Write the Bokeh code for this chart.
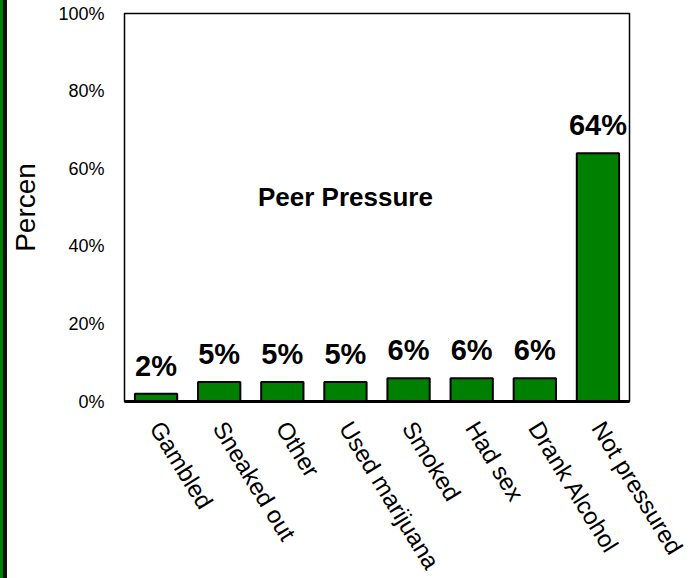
from bokeh.plotting import figure
from bokeh.layouts import row
from bokeh.models import (ColumnDataSource, FixedTicker, PrintfTickFormatter,
                          Label, Range1d, Div)
from bokeh.embed import file_html
from bokeh.resources import INLINE
from bokeh.core.properties import value

categories = ["Gambled", "Sneaked out", "Other", "Used marijuana",
              "Smoked", "Had sex", "Drank Alcohol", "Not pressured"]
percents = [2, 5, 5, 5, 6, 6, 6, 64]
y_ticks = [0, 20, 40, 60, 80, 100]
chart_title = "Peer Pressure"
y_label = "Percen"

FONT = "Liberation Sans"
STRIPE = 7

idx = list(range(len(categories)))
src = ColumnDataSource(dict(
    x=idx,
    top=percents,
    lab=[f"{v}%" for v in percents],
))

p = figure(output_backend="svg", toolbar_location=None,
           frame_width=505, frame_height=388,
           min_border_left=122 - STRIPE, min_border_right=67,
           min_border_top=13, min_border_bottom=177,
           x_range=Range1d(-0.5, len(categories) - 0.5),
           y_range=Range1d(0, 100), margin=(0, 0, 0, 0))

p.vbar(x="x", top="top", width=0.67, source=src,
       fill_color="#008000", line_color="#000000", line_width=2)

p.text(x="x", y="top", text="lab", source=src,
       text_align="center", text_baseline="alphabetic", y_offset=-28,
       text_font=value(FONT), text_font_style="bold",
       text_font_size="29px", text_color="#000000")

p.add_layout(Label(x=3.0, y=52.6, text=chart_title,
                   text_align="center", text_baseline="middle",
                   text_font=FONT, text_font_style="bold",
                   text_font_size="26px", text_color="#000000"))

# grid / outline
p.xgrid.visible = False
p.ygrid.visible = False
p.outline_line_color = "#000000"
p.outline_line_width = 1.5
p.background_fill_color = "#ffffff"
p.border_fill_color = "#ffffff"

# y axis
ya = p.yaxis[0]
ya.ticker = FixedTicker(ticks=y_ticks)
ya.formatter = PrintfTickFormatter(format="%d%%")
ya.axis_label = y_label
ya.axis_label_text_font = FONT
ya.axis_label_text_font_style = "normal"
ya.axis_label_text_font_size = "28px"
ya.axis_label_text_color = "#000000"
ya.axis_label_standoff = 14
ya.major_label_text_font = FONT
ya.major_label_text_font_size = "18px"
ya.major_label_text_color = "#000000"
ya.major_label_standoff = 20
ya.major_tick_line_color = None
ya.major_tick_out = 0
ya.major_tick_in = 0
ya.minor_tick_line_color = None
ya.minor_tick_out = 0
ya.minor_tick_in = 0
ya.axis_line_color = None

# x axis
xa = p.xaxis[0]
xa.ticker = FixedTicker(ticks=idx)
xa.major_label_overrides = {i: c for i, c in zip(idx, categories)}
xa.major_label_orientation = -1.02
xa.major_label_text_font = FONT
xa.major_label_text_font_size = "24px"
xa.major_label_text_color = "#000000"
xa.major_label_standoff = 22
xa.major_tick_line_color = None
xa.major_tick_out = 0
xa.major_tick_in = 0
xa.minor_tick_line_color = None
xa.minor_tick_out = 0
xa.minor_tick_in = 0
xa.axis_line_color = "#000000"
xa.axis_line_width = 3

stripe = Div(text="", width=STRIPE, height=578, margin=(0, 0, 0, 0),
             styles={"background": "linear-gradient(to right, #008000 0px, #008000 3px, #111111 3px, #111111 7px)"})

layout = row(stripe, p, spacing=0, margin=(0, 0, 0, 0))

open("out.html", "w").write(file_html(layout, INLINE))
